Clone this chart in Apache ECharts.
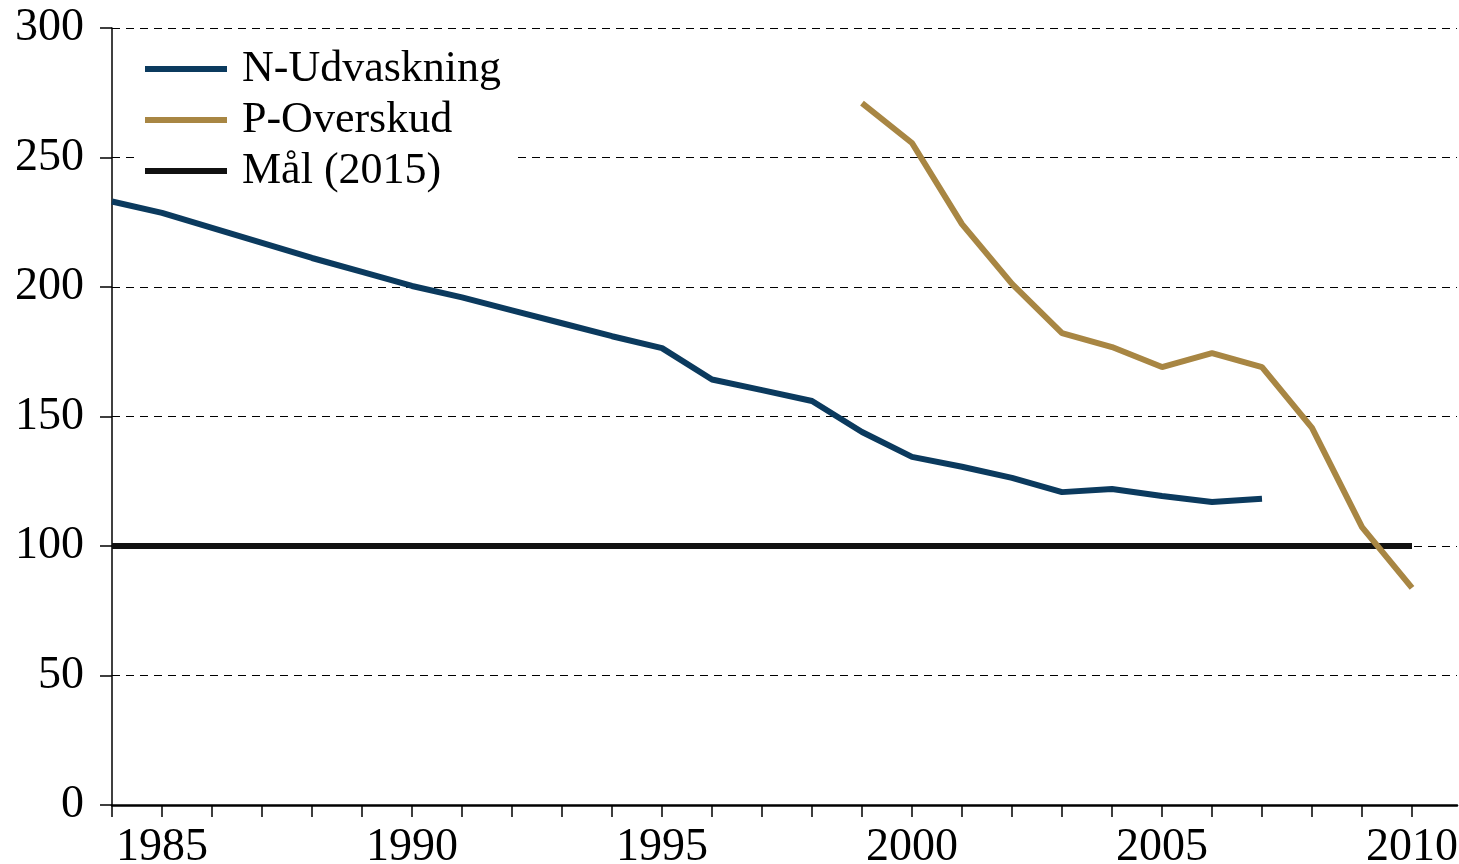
<!DOCTYPE html>
<html>
<head>
<meta charset="utf-8">
<script src="https://cdn.jsdelivr.net/npm/echarts@6/dist/echarts.min.js"></script>
<style>
html,body{margin:0;padding:0;background:#fff;}
#c{width:1459px;height:864px;}
</style>
</head>
<body>
<div id="c"></div>
<script>
const nYears = [1984,1985,1986,1987,1988,1989,1990,1991,1992,1993,1994,1995,1996,1997,1998,1999,2000,2001,2002,2003,2004,2005,2006,2007];
const nValues = [233,228.6,222.8,217,211.2,205.8,200.4,196,191,186,181,176.4,164.3,160.2,156,144,134.4,130.6,126.3,120.8,122,119.3,117,118.2];
const pYears = [1999,2000,2001,2002,2003,2004,2005,2006,2007,2008,2009,2010];
const pValues = [271,255.6,224.3,201.2,182.2,176.8,169.1,174.5,169.1,145.6,107.3,83.8];
const goalYears = [1984,2010];
const goalValues = [100,100];
const xLabelYears = [1985,1990,1995,2000,2005,2010];
const xTickYears = [1984,1985,1986,1987,1988,1989,1990,1991,1992,1993,1994,1995,1996,1997,1998,1999,2000,2001,2002,2003,2004,2005,2006,2007,2008,2009,2010];
const seriesNames = ['N-Udvaskning','P-Overskud','Mål (2015)'];

const zip = (xs, ys) => xs.map((x, i) => [x, ys[i]]);
const font = '"Liberation Serif", "Times New Roman", serif';

const chart = echarts.init(document.getElementById('c'), null, {renderer: 'canvas'});
chart.setOption({
  animation: false,
  backgroundColor: '#ffffff',
  grid: {left: 112, right: 2, top: 28, bottom: 59, containLabel: false, outerBoundsMode: 'none'},
  legend: {
    data: seriesNames,
    orient: 'vertical',
    left: 138,
    top: 41,
    padding: [6, 15, 6, 7],
    backgroundColor: '#ffffff',
    icon: 'rect',
    itemWidth: 82,
    itemHeight: 6,
    itemGap: 7,
    textStyle: {fontFamily: font, fontSize: 44, color: '#000', lineHeight: 44, padding: [0, 0, 0, 10]},
    z: 10
  },
  xAxis: {
    type: 'value',
    min: 1984,
    max: 2010.9,
    interval: 1,
    axisLine: {show: true, onZero: false, lineStyle: {color: '#000', width: 2.5}},
    axisTick: {show: true, customValues: xTickYears, length: 12, inside: false, lineStyle: {color: '#000', width: 1.5}},
    axisLabel: {customValues: xLabelYears, formatter: v => String(Math.round(v)), fontFamily: font, fontSize: 46, color: '#000', margin: 20},
    splitLine: {show: false}
  },
  yAxis: {
    type: 'value',
    min: 0,
    max: 300,
    interval: 50,
    axisLine: {show: true, lineStyle: {color: '#000', width: 1.5}},
    axisTick: {show: true, length: 12, inside: false, lineStyle: {color: '#000', width: 1.5}},
    axisLabel: {fontFamily: font, fontSize: 46, color: '#000', margin: 28},
    splitLine: {show: true, lineStyle: {color: '#000', width: 1.2, type: [8, 6]}}
  },
  series: [
    {
      name: seriesNames[0], type: 'line', data: zip(nYears, nValues),
      showSymbol: false, symbol: 'none', z: 3,
      lineStyle: {color: '#0b3a5e', width: 6}, itemStyle: {color: '#0b3a5e'}
    },
    {
      name: seriesNames[2], type: 'line', data: zip(goalYears, goalValues),
      showSymbol: false, symbol: 'none', z: 2,
      lineStyle: {color: '#111111', width: 6}, itemStyle: {color: '#111111'}
    },
    {
      name: seriesNames[1], type: 'line', data: zip(pYears, pValues),
      showSymbol: false, symbol: 'none', z: 4,
      lineStyle: {color: '#a88643', width: 6}, itemStyle: {color: '#a88643'}
    }
  ]
});
</script>
</body>
</html>
